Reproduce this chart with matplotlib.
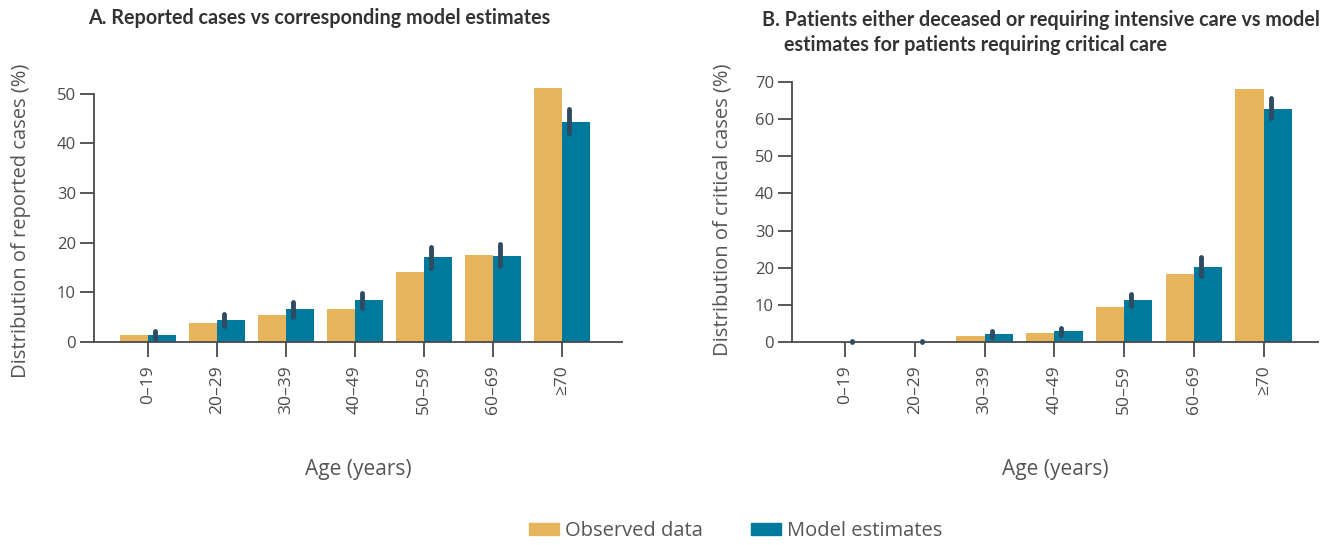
import matplotlib
matplotlib.use("Agg")
from matplotlib import pyplot as plt
from matplotlib.patches import Patch
import numpy as np

ages = ['0–19', '20–29', '30–39', '40–49', '50–59', '60–69', '≥70']

# panel A: reported cases
obs_a = [1.4, 3.8, 5.4, 6.6, 14.1, 17.5, 51.2]
mod_a = [1.4, 4.4, 6.6, 8.4, 17.1, 17.3, 44.3]
lo_a = [0.7, 3.2, 5.1, 6.9, 15.0, 15.3, 42.2]
hi_a = [2.2, 5.6, 8.0, 9.9, 19.2, 19.7, 47.0]

# panel B: critical cases
obs_b = [0.0, 0.0, 1.6, 2.3, 9.4, 18.2, 68.2]
mod_b = [0.05, 0.05, 2.1, 2.9, 11.2, 20.3, 62.8]
lo_b = [0.0, 0.0, 1.3, 2.0, 9.6, 17.9, 60.3]
hi_b = [0.2, 0.2, 3.0, 3.9, 12.8, 22.8, 65.8]

orange = '#E6B45A'
blue = '#007A9C'
errc = '#2F4B62'
grey = '#4A4A4A'

plt.rcParams['font.family'] = ['Open Sans', 'DejaVu Sans']

fig = plt.figure(figsize=(13.28, 5.45), dpi=100)
ax_a = fig.add_axes([0.0708, 0.3725, 0.3976, 0.4844])
ax_b = fig.add_axes([0.5964, 0.3725, 0.3961, 0.4844])


def draw(ax, obs, mod, lo, hi, ytop, ymax, ylabel):
    x = np.arange(len(ages))
    w = 0.405
    ax.bar(x - w / 2, obs, w, color=orange, linewidth=0)
    ax.bar(x + w / 2, mod, w, color=blue, linewidth=0)
    ax.vlines(x + w / 4, lo, hi, color=errc, linewidth=3.5, capstyle='round',
              clip_on=False, zorder=3)
    ax.set_ylim(0, ymax)
    ax.set_yticks(np.arange(0, ytop + 1, 10))
    ax.set_xticks(x)
    ax.set_xticklabels(ages, rotation=90)
    for s in ['top', 'right']:
        ax.spines[s].set_visible(False)
    ax.spines['left'].set_bounds(0, ytop)
    for s in ['left', 'bottom']:
        ax.spines[s].set_color(grey)
        ax.spines[s].set_linewidth(1.3)
    ax.tick_params(axis='x', length=11, width=1.3, color=grey, labelcolor=grey,
                   labelsize=12.5, pad=6)
    ax.tick_params(axis='y', length=10, width=1.3, color=grey, labelcolor=grey,
                   labelsize=12, pad=3)
    ax.set_ylabel(ylabel, fontsize=14.5, color='#555555', labelpad=16)
    ax.set_xlabel('Age (years)', fontsize=15, color='#555555', labelpad=32)


draw(ax_a, obs_a, mod_a, lo_a, hi_a, 50, 53.2, 'Distribution of reported cases (%)')
ax_a.set_xlim(-0.783, 6.87)
ax_a.yaxis.set_label_coords(-0.12, 0.46)
draw(ax_b, obs_b, mod_b, lo_b, hi_b, 70, 71.1, 'Distribution of critical cases (%)')
ax_b.set_xlim(-0.76, 6.78)

tfont = ['Lato', 'DejaVu Sans']
fig.text(88 / 1328, 1 - 18 / 545, 'A. Reported cases vs corresponding model estimates',
         family=tfont, fontweight='bold', fontsize=14.2, color='#333333', va='center')
fig.text(762 / 1328, 1 - 20 / 545, 'B. Patients either deceased or requiring intensive care vs model',
         family=tfont, fontweight='bold', fontsize=14.2, color='#333333', va='center')
fig.text(784 / 1328, 1 - 45 / 545, 'estimates for patients requiring critical care',
         family=tfont, fontweight='bold', fontsize=14.2, color='#333333', va='center')

handles = [Patch(color=orange, label='Observed data'), Patch(color=blue, label='Model estimates')]
fig.legend(handles=handles, loc='center', bbox_to_anchor=(0.554, 1 - 531 / 545), ncol=2,
           frameon=False, fontsize=14.5, handlelength=1.5, handleheight=0.6,
           columnspacing=2.4, handletextpad=0.3, labelcolor='#555555')

fig.savefig('out.png', dpi=100)
